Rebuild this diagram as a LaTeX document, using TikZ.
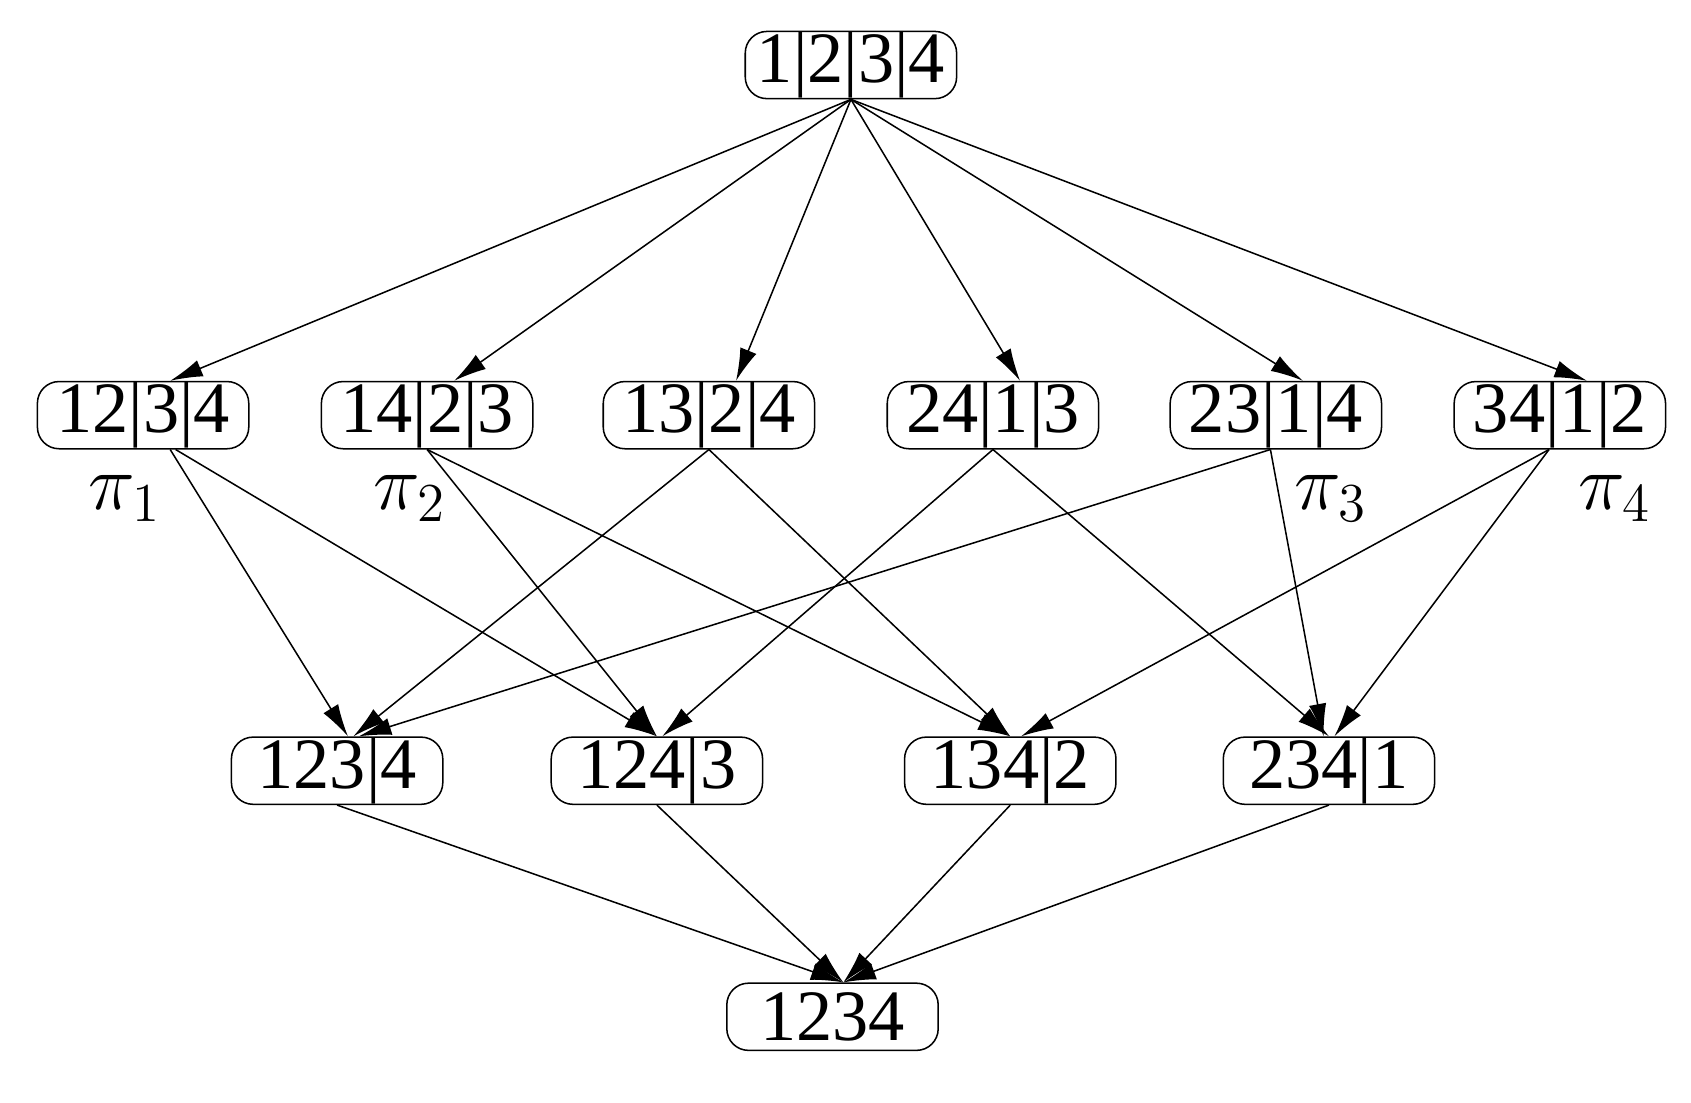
\documentclass[tikz,border=0pt]{standalone}
\usepackage{amsmath}
\usepackage{fontspec}
\setmainfont{Liberation Serif}
\usetikzlibrary{arrows.meta}
\begin{document}
\begin{tikzpicture}[
part/.style={draw,rectangle,rounded corners=0.2cm,minimum width=1.95cm,minimum height=0.62cm,inner sep=0pt,font=\fontsize{19}{22}\selectfont},
edge/.style={-{Latex[length=3mm,width=1.6mm]},thin}]
\useasboundingbox (0,0) rectangle (15.6,-10.17);
% top
\node (top) [part] at (7.85,-0.60) {1|2|3|4};
% two blocks
\node (a1) [part] at (1.32,-3.83) {12|3|4};
\node (a2) [part] at (3.94,-3.83) {14|2|3};
\node (a3) [part] at (6.54,-3.83) {13|2|4};
\node (a4) [part] at (9.16,-3.83) {24|1|3};
\node (a5) [part] at (11.77,-3.83) {23|1|4};
\node (a6) [part] at (14.39,-3.83) {34|1|2};
% one block split off
\node (b1) [part] at (3.11,-7.11) {123|4};
\node (b2) [part] at (6.06,-7.11) {124|3};
\node (b3) [part] at (9.32,-7.11) {134|2};
\node (b4) [part] at (12.26,-7.11) {234|1};
% bottom
\node (bot) [part] at (7.68,-9.38) {1234};
% labels
\node (p1) at (1.15,-4.60) {\fontsize{20}{22}\selectfont$\pi_1$};
\node (p2) at (3.78,-4.60) {\fontsize{20}{22}\selectfont$\pi_2$};
\node (p3) at (12.28,-4.60) {\fontsize{20}{22}\selectfont$\pi_3$};
\node (p4) at (14.90,-4.60) {\fontsize{20}{22}\selectfont$\pi_4$};
% edges
\foreach \t in {a1,a2,a3,a4,a5,a6}
  \draw[edge] (top.south) -- ([xshift=0.25cm]\t.north);
\draw[edge] ([xshift=0.25cm]a1.south) -- ([xshift=0.1cm]b1.north);
\draw[edge] ([xshift=0.3cm]a1.south) -- (b2.north);
\draw[edge] (a2.south) -- (b2.north);
\draw[edge] (a2.south) -- (b3.north);
\draw[edge] (a3.south) -- ([xshift=0.15cm]b1.north);
\draw[edge] (a3.south) -- (b3.north);
\draw[edge] (a4.south) -- ([xshift=0.05cm]b2.north);
\draw[edge] (a4.south) -- (b4.north);
\draw[edge] ([xshift=-0.05cm]a5.south) -- ([xshift=0.2cm]b1.north);
\draw[edge] ([xshift=-0.05cm]a5.south) -- ([xshift=-0.05cm]b4.north);
\draw[edge] ([xshift=-0.1cm]a6.south) -- ([xshift=0.1cm]b3.north);
\draw[edge] ([xshift=-0.1cm]a6.south) -- ([xshift=0.05cm]b4.north);
\foreach \s in {b1,b2,b3,b4}
  \draw[edge] (\s.south) -- ([xshift=0.1cm]bot.north);
\end{tikzpicture}
\end{document}
